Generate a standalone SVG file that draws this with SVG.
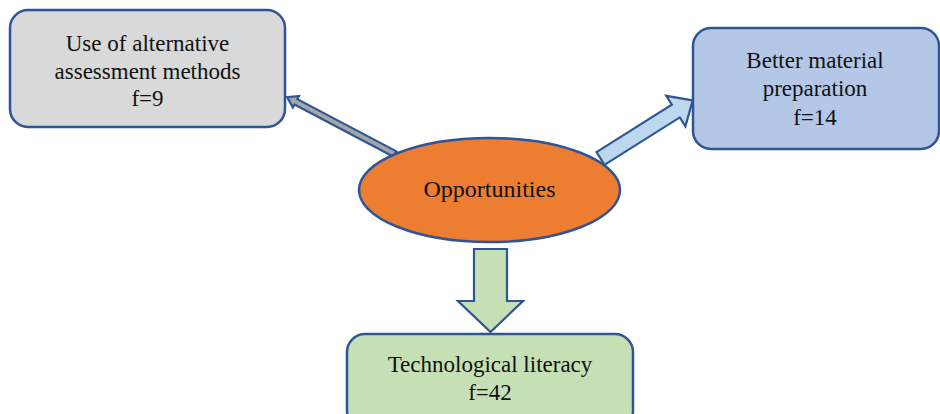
<svg xmlns="http://www.w3.org/2000/svg" width="940" height="414" viewBox="0 0 940 414">
  <style>
    .box { stroke: #2F5597; stroke-width: 2.5; }
    .arrow { stroke: #2F5597; stroke-width: 2.2; stroke-linejoin: miter; }
    text { font-family: "Liberation Serif", "Times New Roman", serif; font-size: 23px; fill: #111; text-anchor: middle; }
  </style>
  <rect width="940" height="414" fill="#ffffff"/>

  <!-- connectors -->
  <g id="connectors">
    <!-- thin arrow toward assessment methods -->
    <g transform="translate(395,154) rotate(-152.2)">
      <polygon class="arrow" fill="#A6A6A6" points="0,-3 112,-3 112,-6.5 122,0 112,6.5 112,3 0,3"/>
    </g>
    <!-- broad arrow toward material preparation -->
    <g transform="translate(600.5,158.5) rotate(-32.2)">
      <polygon class="arrow" fill="#BDD7EE" points="0,-7.5 89,-7.5 89,-18 109,0 89,18 89,7.5 0,7.5"/>
    </g>
    <!-- down arrow toward technological literacy -->
    <polygon class="arrow" fill="#C5E0B4" points="474,249 507,249 507,301 523,301 490.5,332 458,301 474,301"/>
  </g>

  <g id="node-assessment">
    <rect class="box" x="10" y="10" width="275" height="117" rx="18" fill="#D9D9D9"/>
    <text x="147.5" y="51">Use of alternative</text>
    <text x="147.5" y="79">assessment methods</text>
    <text x="147.5" y="106">f=9</text>
  </g>

  <g id="node-material">
    <rect class="box" x="693" y="28" width="246" height="121" rx="18" fill="#B4C7E7"/>
    <text x="815" y="68">Better material</text>
    <text x="815" y="96">preparation</text>
    <text x="815" y="125">f=14</text>
  </g>

  <g id="node-opportunities">
    <ellipse class="box" cx="489.5" cy="190" rx="130.5" ry="52" fill="#ED7D31"/>
    <text x="489.5" y="197" style="font-size:24px">Opportunities</text>
  </g>

  <g id="node-literacy">
    <rect class="box" x="347" y="334" width="286" height="95" rx="18" fill="#C5E0B4"/>
    <text x="490" y="372">Technological literacy</text>
    <text x="490" y="400">f=42</text>
  </g>
</svg>
